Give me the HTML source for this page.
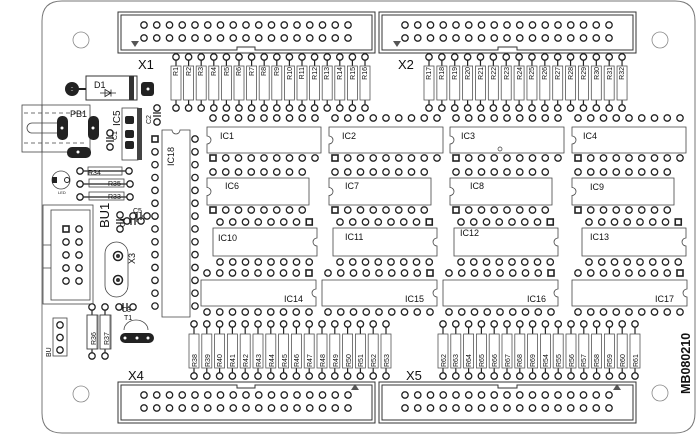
<!DOCTYPE html>
<html><head><meta charset="utf-8"><style>
html,body{margin:0;padding:0;background:#fff;}
svg{display:block;}
text{font-family:"Liberation Sans",sans-serif;fill:#111;}
.sm{font-size:7px;}
.lb{font-size:9px;}
</style></head><body>
<svg id="s" width="700" height="440" viewBox="0 0 700 440" xmlns="http://www.w3.org/2000/svg">
<g fill="none" stroke="#777" stroke-width="1">
<path d="M62 1 H675 Q695 1 695 21 V413 Q695 433 675 433 H62 Q42 433 42 413 V21 Q42 1 62 1 Z"/>
</g>
<g fill="none" stroke="#888" stroke-width="0.8">
<circle cx="81" cy="40" r="8"/><circle cx="660" cy="40" r="8"/>
<circle cx="81" cy="394" r="8"/><circle cx="660" cy="393" r="8"/>
</g>
<!-- connectors -->
<g fill="none" stroke="#333" stroke-width="1">
<rect x="118" y="12" width="257" height="41"/>
<path d="M121 15 H372 V50 H255 V47 H237 V50 H121 Z"/>
<rect x="379" y="12" width="257" height="41"/>
<path d="M382 15 H633 V50 H517 V47 H498 V50 H382 Z"/>
<rect x="118" y="382" width="257" height="41"/>
<path d="M121 385 H237 V388 H255 V385 H372 V420 H121 Z"/>
<rect x="379" y="382" width="257" height="41"/>
<path d="M382 385 H498 V388 H517 V385 H633 V420 H382 Z"/>
</g>
<g fill="#555">
<path d="M131 41 h8 l-4 6z"/><path d="M393 41 h8 l-4 6z"/>
<path d="M351 390 h8 l-4 -6z"/><path d="M613 390 h8 l-4 -6z"/>
</g>
<text x="138" y="69" font-size="13">X1</text>
<text x="398" y="69" font-size="13">X2</text>
<text x="128" y="380" font-size="13">X4</text>
<text x="406" y="380" font-size="13">X5</text>
<g id="gen"></g>
<!-- D1 -->
<rect x="86" y="76" width="51" height="24" fill="none" stroke="#333"/>
<rect x="129" y="76" width="5" height="24" fill="#333"/>
<circle cx="72" cy="89" r="7" fill="#222"/>
<rect x="141" y="82" width="13" height="14" rx="3" fill="#222"/>
<circle cx="72" cy="89" r="1.5" fill="#fff"/><circle cx="148" cy="89" r="1.5" fill="#fff"/>
<line x1="66" y1="89" x2="86" y2="89" stroke="#222" stroke-width="2"/>
<text x="94" y="88" class="lb">D1</text>
<path d="M100 93 h16 M105 89.5 v7 l6 -3.5z M111 89.5 v7" stroke="#222" fill="none" stroke-width="0.8"/>
<!-- PB1 -->
<g fill="none" stroke="#444" stroke-width="0.8">
<rect x="22" y="105" width="68" height="47"/><line x1="42" y1="105" x2="42" y2="152"/>
<path d="M24 113 H85 M24 143 H85" stroke-dasharray="4 3"/>
<path d="M60 123 H32 A5 5 0 0 0 32 133 H60"/>
</g>
<rect x="57" y="116" width="11" height="24" rx="5" fill="#222"/>
<rect x="88" y="116" width="11" height="24" rx="5" fill="#222"/>
<rect x="67" y="147" width="24" height="11" rx="5" fill="#222"/>
<circle cx="62" cy="128" r="1.5" fill="#fff"/><circle cx="93" cy="128" r="1.5" fill="#fff"/><circle cx="78" cy="152" r="1.5" fill="#fff"/>
<text x="70" y="117" class="lb">PB1</text>
<!-- IC5 -->
<rect x="122" y="108" width="16" height="52" fill="none" stroke="#444" stroke-width="0.8"/>
<rect x="137" y="108" width="5" height="52" fill="#444"/>
<rect x="125" y="116" width="9" height="8" rx="2" fill="#222"/>
<rect x="125" y="130" width="9" height="8" rx="2" fill="#222"/>
<rect x="125" y="141" width="9" height="8" rx="2" fill="#222"/>
<text transform="translate(120,126) rotate(-90)" font-size="10">IC5</text>
<text transform="translate(151,124) rotate(-90)" class="sm">C2</text>
<text transform="translate(117,140) rotate(-90)" class="sm">C1</text>
<!-- R34 R35 R33 -->
<g fill="none" stroke="#444" stroke-width="0.8">
<rect x="88" y="167" width="34" height="8"/><rect x="89" y="179" width="35" height="8"/><rect x="89" y="192" width="35" height="8"/>
<circle cx="61" cy="180" r="9"/>
</g>
<text x="88" y="175" class="sm">R34</text><text x="108" y="186" class="sm">R35</text><text x="108" y="199" class="sm">R33</text>
<rect x="52" y="177" width="5" height="6" fill="#222"/><circle cx="67" cy="180" r="2.5" fill="none" stroke="#222"/>
<text x="58" y="194" font-size="4">LED</text>
<!-- BU1 -->
<g fill="none" stroke="#444" stroke-width="0.8">
<rect x="43" y="205" width="50" height="99"/><rect x="51" y="210" width="39" height="90"/>
<path d="M43 245 H51 M43 268 H51"/>
<rect x="105" y="242" width="23" height="55" rx="11.5"/>
<rect x="53" y="318" width="14" height="38"/>
<path d="M124 330 A12 10 0 0 1 148 330"/>
<rect x="87" y="315" width="11" height="34"/><rect x="100" y="315" width="11" height="34"/>
</g>
<text transform="translate(109,228) rotate(-90)" font-size="13">BU1</text>
<text transform="translate(135,264) rotate(-90)" class="lb">X3</text>
<text transform="translate(51,357) rotate(-90)" class="sm">BU</text>
<text transform="translate(125,227) rotate(-90)" class="sm">C4</text>
<text x="133" y="213" class="sm">C5</text>
<text x="122" y="312" class="sm">C3</text>
<text x="124" y="320" class="sm">T1</text>
<rect x="120" y="333" width="34" height="10" rx="5" fill="#222"/>
<circle cx="125" cy="338" r="1.5" fill="#fff"/><circle cx="137" cy="338" r="1.5" fill="#fff"/><circle cx="148" cy="338" r="1.5" fill="#fff"/>
<text transform="translate(96,345) rotate(-90)" class="sm">R36</text>
<text transform="translate(109,345) rotate(-90)" class="sm">R37</text>
<!-- IC18 -->
<path d="M162 130 H172 A4 4 0 0 0 180 130 H190 V317 H162 Z" fill="none" stroke="#444" stroke-width="0.8"/>
<text transform="translate(174,166) rotate(-90)" class="lb">IC18</text>
<!-- IC labels -->
<g class="lb">
<text x="220" y="139" font-size="9">IC1</text><text x="342" y="139" font-size="9">IC2</text><text x="461" y="139" font-size="9">IC3</text><text x="583" y="139" font-size="9">IC4</text>
<text x="225" y="189" font-size="9">IC6</text><text x="345" y="189" font-size="9">IC7</text><text x="470" y="189" font-size="9">IC8</text><text x="590" y="190" font-size="9">IC9</text>
<text x="218" y="241" font-size="9">IC10</text><text x="345" y="240" font-size="9">IC11</text><text x="460" y="236" font-size="9">IC12</text><text x="590" y="240" font-size="9">IC13</text>
<text x="284" y="302" font-size="9">IC14</text><text x="405" y="302" font-size="9">IC15</text><text x="527" y="302" font-size="9">IC16</text><text x="655" y="302" font-size="9">IC17</text>
</g>
<circle cx="500" cy="149" r="2" fill="none" stroke="#333" stroke-width="0.7"/>
<text transform="translate(690,394) rotate(-90)" font-size="12.5" font-weight="bold">MB080210</text>
<!-- resistor labels -->
<g class="sm">
<text transform="translate(178,67) rotate(-90)" text-anchor="end">R1</text>
<text transform="translate(191,67) rotate(-90)" text-anchor="end">R2</text>
<text transform="translate(203,67) rotate(-90)" text-anchor="end">R3</text>
<text transform="translate(216,67) rotate(-90)" text-anchor="end">R4</text>
<text transform="translate(229,67) rotate(-90)" text-anchor="end">R5</text>
<text transform="translate(241,67) rotate(-90)" text-anchor="end">R6</text>
<text transform="translate(254,67) rotate(-90)" text-anchor="end">R7</text>
<text transform="translate(266,67) rotate(-90)" text-anchor="end">R8</text>
<text transform="translate(279,67) rotate(-90)" text-anchor="end">R9</text>
<text transform="translate(292,67) rotate(-90)" text-anchor="end">R10</text>
<text transform="translate(304,67) rotate(-90)" text-anchor="end">R11</text>
<text transform="translate(317,67) rotate(-90)" text-anchor="end">R12</text>
<text transform="translate(329,67) rotate(-90)" text-anchor="end">R13</text>
<text transform="translate(342,67) rotate(-90)" text-anchor="end">R14</text>
<text transform="translate(355,67) rotate(-90)" text-anchor="end">R15</text>
<text transform="translate(367,67) rotate(-90)" text-anchor="end">R16</text>
<text transform="translate(431,67) rotate(-90)" text-anchor="end">R17</text>
<text transform="translate(444,67) rotate(-90)" text-anchor="end">R18</text>
<text transform="translate(457,67) rotate(-90)" text-anchor="end">R19</text>
<text transform="translate(470,67) rotate(-90)" text-anchor="end">R20</text>
<text transform="translate(483,67) rotate(-90)" text-anchor="end">R21</text>
<text transform="translate(496,67) rotate(-90)" text-anchor="end">R22</text>
<text transform="translate(509,67) rotate(-90)" text-anchor="end">R23</text>
<text transform="translate(522,67) rotate(-90)" text-anchor="end">R24</text>
<text transform="translate(534,67) rotate(-90)" text-anchor="end">R25</text>
<text transform="translate(547,67) rotate(-90)" text-anchor="end">R26</text>
<text transform="translate(560,67) rotate(-90)" text-anchor="end">R27</text>
<text transform="translate(573,67) rotate(-90)" text-anchor="end">R28</text>
<text transform="translate(586,67) rotate(-90)" text-anchor="end">R29</text>
<text transform="translate(599,67) rotate(-90)" text-anchor="end">R30</text>
<text transform="translate(612,67) rotate(-90)" text-anchor="end">R31</text>
<text transform="translate(624,67) rotate(-90)" text-anchor="end">R32</text>
<text transform="translate(197,367) rotate(-90)">R38</text>
<text transform="translate(210,367) rotate(-90)">R39</text>
<text transform="translate(222,367) rotate(-90)">R40</text>
<text transform="translate(235,367) rotate(-90)">R41</text>
<text transform="translate(248,367) rotate(-90)">R42</text>
<text transform="translate(261,367) rotate(-90)">R43</text>
<text transform="translate(274,367) rotate(-90)">R44</text>
<text transform="translate(287,367) rotate(-90)">R45</text>
<text transform="translate(299,367) rotate(-90)">R46</text>
<text transform="translate(312,367) rotate(-90)">R47</text>
<text transform="translate(325,367) rotate(-90)">R48</text>
<text transform="translate(338,367) rotate(-90)">R49</text>
<text transform="translate(351,367) rotate(-90)">R50</text>
<text transform="translate(363,367) rotate(-90)">R51</text>
<text transform="translate(376,367) rotate(-90)">R52</text>
<text transform="translate(389,367) rotate(-90)">R53</text>
<text transform="translate(446,367) rotate(-90)">R62</text>
<text transform="translate(458,367) rotate(-90)">R63</text>
<text transform="translate(471,367) rotate(-90)">R64</text>
<text transform="translate(484,367) rotate(-90)">R65</text>
<text transform="translate(497,367) rotate(-90)">R66</text>
<text transform="translate(510,367) rotate(-90)">R67</text>
<text transform="translate(522,367) rotate(-90)">R68</text>
<text transform="translate(535,367) rotate(-90)">R69</text>
<text transform="translate(548,367) rotate(-90)">R54</text>
<text transform="translate(561,367) rotate(-90)">R55</text>
<text transform="translate(574,367) rotate(-90)">R56</text>
<text transform="translate(586,367) rotate(-90)">R57</text>
<text transform="translate(599,367) rotate(-90)">R58</text>
<text transform="translate(612,367) rotate(-90)">R59</text>
<text transform="translate(625,367) rotate(-90)">R60</text>
<text transform="translate(638,367) rotate(-90)">R61</text>
</g>
</svg>
<script>
(function(){
var NS="http://www.w3.org/2000/svg",g=document.getElementById("gen");
function el(t,a){var e=document.createElementNS(NS,t);for(var k in a)e.setAttribute(k,a[k]);g.appendChild(e);return e;}
function hole(x,y,sq){if(sq)el("rect",{x:x-3,y:y-3,width:6,height:6,fill:"#fff",stroke:"#222","stroke-width":1.6});else el("circle",{cx:x,cy:y,r:3.2,fill:"#fff",stroke:"#222","stroke-width":1.3});}
var i;
// connector holes
[[144,25],[144,38],[405,25],[405,38],[144,395],[144,408],[405,395],[405,408]].forEach(function(p){for(i=0;i<17;i++)hole(p[0]+i*12.75,p[1]);});
// resistors
function res(x,yt,yb,bt,bb){el("line",{x1:x,y1:yt,x2:x,y2:yb,stroke:"#222","stroke-width":1.2});el("rect",{x:x-5,y:bt,width:10,height:bb-bt,fill:"#fff",stroke:"#555","stroke-width":0.8});hole(x,yt);hole(x,yb);}
for(i=0;i<16;i++)res(176+i*12.6,57,108,66,100);
for(i=0;i<16;i++)res(429+i*12.87,57,108,66,100);
for(i=0;i<16;i++)res(194+i*12.8,324,376,334,368);
for(i=0;i<16;i++)res(443+i*12.8,324,376,334,368);
res(92,307,356,315,349);res(105,307,356,315,349);
// horizontal small resistors pads
[[80,171,129],[80,184,130],[80,197,130]].forEach(function(p){el("line",{x1:p[0],y1:p[1],x2:p[2],y2:p[1],stroke:"#222","stroke-width":1.2});hole(p[0],p[1]);hole(p[2],p[1]);});
// DIPs
function dip(x0,n,yt,yb,bx,bw,by,bh,notch,sq){
 for(i=0;i<n;i++){hole(x0+i*12.75,yt,sq=="tr"&&i==n-1);hole(x0+i*12.75,yb,sq=="bl"&&i==0);}
 var cy=by+bh/2,d;
 if(notch=="L")d="M"+bx+" "+by+" H"+(bx+bw)+" V"+(by+bh)+" H"+bx+" V"+(cy+4)+" A4 4 0 0 0 "+bx+" "+(cy-4)+" Z";
 else d="M"+bx+" "+by+" H"+(bx+bw)+" V"+(cy-4)+" A4 4 0 0 0 "+(bx+bw)+" "+(cy+4)+" V"+(by+bh)+" H"+bx+" Z";
 el("path",{d:d,fill:"#fff",stroke:"#444","stroke-width":0.8});
}
[213,335,456,578].forEach(function(x){dip(x,9,118,158,x-6,114,127,26,"L","bl");});
[213,335,456,578].forEach(function(x){dip(x,8,172,210,x-6,102,178,27,"L","bl");});
[220,340,461,589].forEach(function(x){dip(x,8,222,262,x-7,104,228,28,"R","tr");});
[207,328,449,578].forEach(function(x){dip(x,9,273,312,x-6,115,280,26,"R","tr");});
// IC18 pins
for(i=0;i<14;i++){hole(155,139+i*12.85,i==0);hole(195,139+i*12.85);}
// BU1 pins
for(i=0;i<5;i++){hole(66,229+i*13,i==0);hole(79,229+i*13);}
for(i=0;i<3;i++)hole(60,325+i*12.5);
// crystal pads
[[118,256],[118,280]].forEach(function(p){el("circle",{cx:p[0],cy:p[1],r:4.5,fill:"#fff",stroke:"#222","stroke-width":1.5});el("circle",{cx:p[0],cy:p[1],r:2,fill:"#333"});});
// capacitors
function capH(x,y){hole(x-7,y);hole(x+7,y);el("path",{d:"M"+(x-3)+" "+(y-4)+"v8M"+(x+1)+" "+(y-4)+"v8M"+(x-4)+" "+y+"h-1M"+(x+2)+" "+y+"h1",stroke:"#222","stroke-width":1.3,fill:"none"});}
function capV(x,y){hole(x,y-7);hole(x,y+7);el("path",{d:"M"+(x-4)+" "+(y-2)+"h8M"+(x-4)+" "+(y+1)+"h8",stroke:"#222","stroke-width":1.3});}
capV(157,115);capV(110,140);capH(134,221);capV(120,222);capH(126,307);capH(140,216);
})();
</script>
</body></html>
